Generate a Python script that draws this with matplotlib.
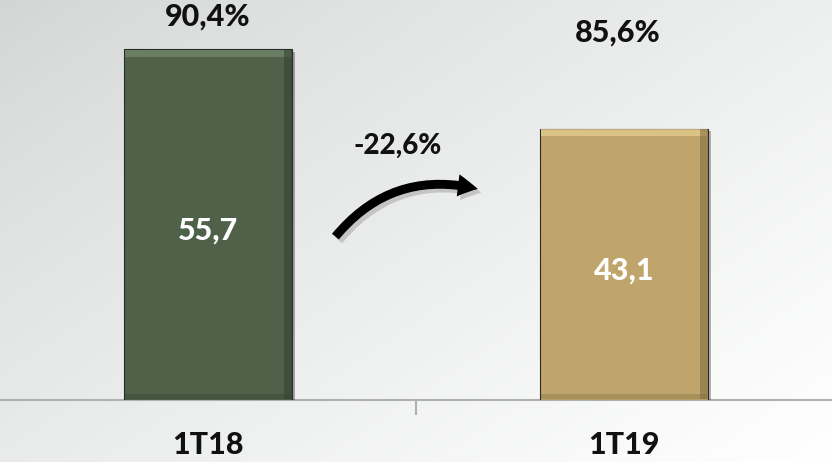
import numpy as np
import matplotlib
matplotlib.use('Agg')
import matplotlib.pyplot as plt
import matplotlib.patheffects as pe
from matplotlib.patches import FancyArrowPatch

# Data
periods = ['1T18', '1T19']
values = [55.7, 43.1]
value_labels = ['55,7', '43,1']
pct_labels = ['90,4%', '85,6%']
change_label = '-22,6%'

bar_colors = ['#4f6249', '#bfa56b']
top_colors = ['#71866a', '#e3cb8c']
side_colors = ['#33402f', '#7d6a3e']

plt.rcParams['font.family'] = ['Lato', 'DejaVu Sans']
WT = 'black'

fig = plt.figure(figsize=(8.32, 4.62), dpi=100)

# background gradient (grey top-left fading to white)
bg = fig.add_axes([0, 0, 1, 1], zorder=0)
gx, gy = np.meshgrid(np.linspace(0, 1, 300), np.linspace(0, 1, 200))
t = np.clip(0.55 * gx + 0.45 * gy, 0, 1)
shade = 0.82 + 0.18 * t ** 0.8
img = np.dstack([shade, shade + 0.015 * (1 - t), shade + 0.01 * (1 - t)])
bg.imshow(np.clip(img, 0, 1), aspect='auto', extent=[0, 1, 1, 0])
bg.axis('off')

ax = fig.add_axes([0, 62 / 462, 1, 400 / 462], zorder=1)
ax.patch.set_alpha(0)
ax.set_xlim(-0.5, 1.5)
ax.set_ylim(0, 63.5)

x = np.arange(len(periods))
w = 0.404
bars = ax.bar(x, values, width=w, color=bar_colors, edgecolor='#2a2a2a',
              linewidth=0.8, zorder=3)
for b in bars:
    b.set_path_effects([pe.SimplePatchShadow(offset=(2, -2), alpha=0.35), pe.Normal()])

# simple bevel: lighter top band, darker right and bottom bands
for i, b in enumerate(bars):
    x0 = b.get_x()
    h = b.get_height()
    ax.bar(x0 + w / 2, 1.1, width=w * 0.985, bottom=h - 1.2, color=top_colors[i],
           linewidth=0, zorder=4, alpha=0.8)
    ax.bar(x0 + w - 0.01, h - 0.3, width=0.018, bottom=0.15, color=side_colors[i],
           linewidth=0, zorder=4, alpha=0.55)
    ax.bar(x0 + w / 2, 0.9, width=w * 0.985, bottom=0.1, color=side_colors[i],
           linewidth=0, zorder=4, alpha=0.35)
    ax.text(x[i], h / 2 - 1, value_labels[i], ha='center', va='center',
            color='white', fontsize=22, fontweight=WT, zorder=5)

# percentages above bars
ax.text(x[0], values[0] + 5.2, pct_labels[0], ha='center', va='center',
        fontsize=22, fontweight=WT, color='#111111')
ax.text(x[1] - 0.015, values[1] + 15.2, pct_labels[1], ha='center', va='center',
        fontsize=22, fontweight=WT, color='#111111')

# curved change arrow with soft shadow
for dx, dy, col, z in [(0.008, -0.6, '#c4c4c4', 5), (0, 0, 'black', 6)]:
    arr = FancyArrowPatch((0.302 + dx, 25.6 + dy), (0.655 + dx, 33.4 + dy),
                          connectionstyle='arc3,rad=-0.32',
                          arrowstyle='simple,head_width=1.0,head_length=0.9,tail_width=0.4',
                          mutation_scale=16, color=col, zorder=z, lw=0)
    ax.add_patch(arr)
ax.text(0.457, 40.4, change_label, ha='center', va='center',
        fontsize=20, fontweight=WT, color='#111111')

# axis line and ticks
for s in ['top', 'right', 'left']:
    ax.spines[s].set_visible(False)
ax.spines['bottom'].set_color('#b0b0b0')
ax.spines['bottom'].set_linewidth(1.5)
ax.set_yticks([])
ax.set_xticks([0.5])
ax.set_xticklabels([''])
ax.tick_params(axis='x', length=11, width=1.5, color='#b0b0b0')
for i, p in enumerate(periods):
    ax.text(x[i], -7.1, p, ha='center', va='center', fontsize=22,
            fontweight=WT, color='#111111', clip_on=False)

fig.savefig('out.png', dpi=100)
